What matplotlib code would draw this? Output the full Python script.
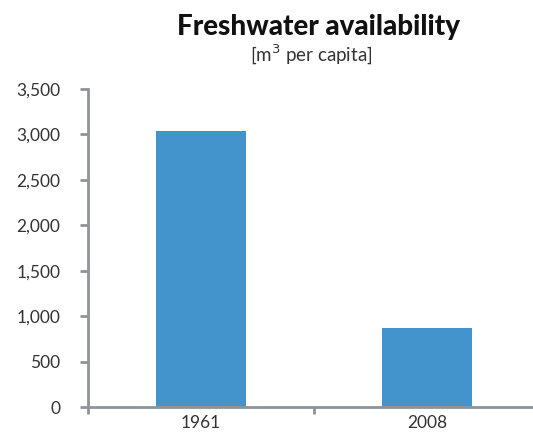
import matplotlib
matplotlib.use("Agg")
from matplotlib import pyplot as plt
from matplotlib.ticker import FuncFormatter

years = ["1961", "2008"]
water = [3038, 875]
y_ticks = [0, 500, 1000, 1500, 2000, 2500, 3000, 3500]

plt.rcParams['font.family'] = ['Lato', 'DejaVu Sans']
axis_grey = "#8e939a"

fig = plt.figure(figsize=(5.33, 4.34), dpi=100)
ax = fig.add_axes([0.165, 0.062, 0.848, 0.733])

ax.bar(range(len(years)), water, width=0.4, color="#4394cd")
ax.set_xlim(-0.5, len(years) - 0.5)
ax.set_ylim(0, 3500)
ax.set_yticks(y_ticks)
ax.yaxis.set_major_formatter(FuncFormatter(lambda v, p: f"{int(v):,}"))

# category labels centred, ticks between categories
ax.set_xticks([-0.5, 0.5, 1.5])
ax.set_xticklabels([])
ax.set_xticks(range(len(years)), minor=True)
ax.set_xticklabels(years, minor=True)
ax.tick_params(axis="x", which="minor", length=0, pad=6, labelsize=12.5, labelcolor="#333333")
ax.tick_params(axis="x", which="major", length=5, width=2, color=axis_grey, direction="out")
ax.tick_params(axis="y", length=6, width=2, color=axis_grey, pad=14, labelsize=12.5, labelcolor="#333333")

for side in ["top", "right"]:
    ax.spines[side].set_visible(False)
for side in ["left", "bottom"]:
    ax.spines[side].set_color(axis_grey)
    ax.spines[side].set_linewidth(2)

fig.text(0.597, 0.937, "Freshwater availability", ha="center", va="center",
         fontsize=20, fontweight="black", color="#111111")
fig.text(0.583, 0.873, "[m$^3$ per capita]", ha="center", va="center",
         fontsize=13.5, color="#333333")

fig.savefig("out.png", dpi=100)
